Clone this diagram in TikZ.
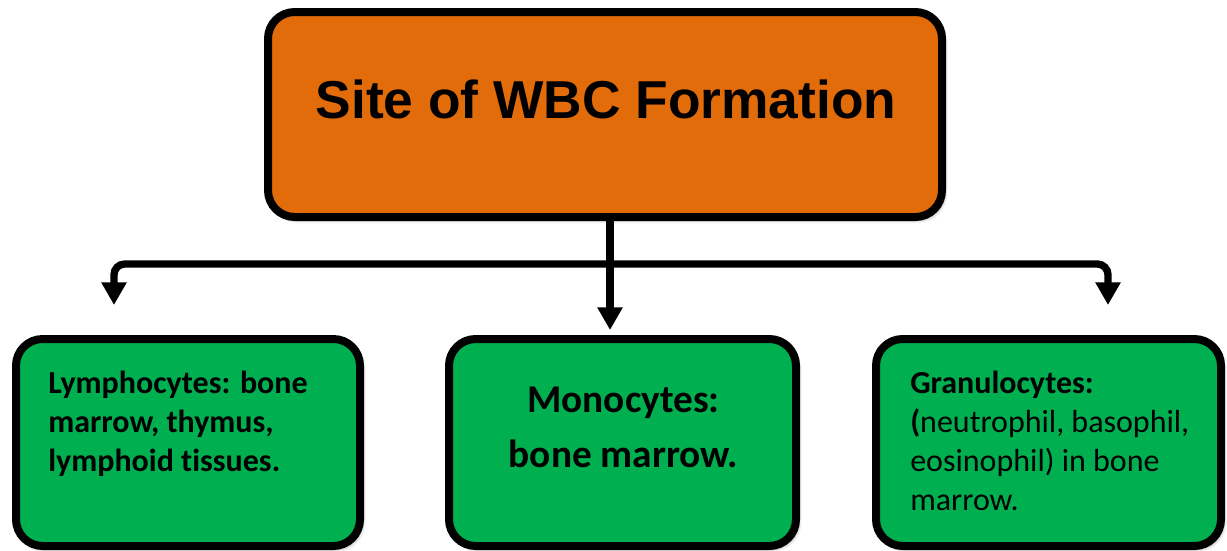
\documentclass[tikz,border=0pt]{standalone}
\usepackage{fontspec}
\setmainfont{Carlito}[Ligatures=NoCommon]
\newfontfamily\titlefont{Liberation Sans}
\usetikzlibrary{arrows.meta,shadows.blur}

\definecolor{siteorange}{HTML}{E36C0A}
\definecolor{cellgreen}{HTML}{00B050}

\tikzset{
  box/.style={draw=black, line width=6pt, rounded corners=20pt,
    blur shadow={shadow xshift=2pt, shadow yshift=-2.5pt,
      shadow blur radius=2.5pt, shadow opacity=35}},
  sitebox/.style={box, fill=siteorange, minimum width=505.5pt, minimum height=153.75pt},
  cellbox/.style={box, fill=cellgreen, minimum height=155.25pt},
  conn/.style={draw=black, line width=5.5pt, rounded corners=8pt,
    -{Triangle[width=18pt, length=17pt]}},
  bodytext/.style={inner sep=0pt, align=left, anchor=base west},
}

\begin{document}
\begin{tikzpicture}[x=0.75pt, y=-0.75pt]
  \useasboundingbox (0,0) rectangle (1227,550);

  % boxes
  \node[sitebox] (site) at (605,114.5) {};
  \node[cellbox, minimum width=258pt] (lymph) at (188,442.5) {};
  \node[cellbox, minimum width=260.25pt] (mono) at (622.5,442.5) {};
  \node[cellbox, minimum width=258.75pt] (gran) at (1048.5,442.5) {};

  % texts (multi-line nodes sit on the baseline of their last line)
  \node[inner sep=0pt, anchor=base, font=\titlefont\bfseries\fontsize{40}{48}\selectfont]
    (sitetext) at (606,118) {Site of WBC Formation};
  \node[bodytext, font=\bfseries\fontsize{24}{29.25}\selectfont] (lymphtext) at (48,471)
    {Lymphocytes: bone\\marrow, thymus,\\lymphoid tissues.};
  \node[inner sep=0pt, align=center, anchor=base,
        font=\bfseries\fontsize{29.5}{41.25}\selectfont] (monotext) at (623.5,467)
    {Monocytes:\\bone marrow.};
  \node[bodytext, font=\fontsize{24}{29.25}\selectfont] (grantext) at (910,510)
    {\textbf{Granulocytes:}\\\textbf{(}neutrophil, basophil,\\eosinophil) in bone\\marrow.};

  % connectors
  \coordinate (split) at (610,264);
  \coordinate (tipL) at (114,305);
  \coordinate (tipM) at (610,330);
  \coordinate (tipR) at (1108,305);
  \draw[conn] (site.south -| split) -- (tipM);
  \draw[conn] (split) -| (tipL);
  \draw[conn] (split) -| (tipR);
\end{tikzpicture}
\end{document}
